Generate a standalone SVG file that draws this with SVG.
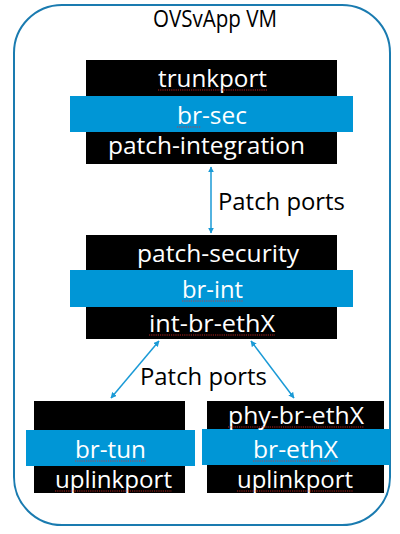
<svg xmlns="http://www.w3.org/2000/svg" width="400" height="534" viewBox="0 0 400 534">
<defs>
<style>
.blk{fill:#000}
.bar{fill:#0096d6}
.t{font-family:"Open Sans","Liberation Sans",sans-serif;font-size:24px;fill:#fff;text-anchor:middle}
.d{font-family:"Open Sans","Liberation Sans",sans-serif;font-size:24px;fill:#000;text-anchor:middle}
.con{stroke:#1a9ad6;stroke-width:1.5;fill:none}
.sq{stroke:#e0302a;stroke-width:0.8;fill:none;stroke-dasharray:1.2 1}
</style>
<marker id="ah" viewBox="0 0 10 10" refX="9" refY="5" markerWidth="6" markerHeight="6" orient="auto-start-reverse" markerUnits="userSpaceOnUse">
<path d="M0,0 L10,5 L0,10 z" fill="#1a9ad6"/>
</marker>
</defs>
<rect width="400" height="534" fill="#fff"/>
<g id="vm">
<rect x="14" y="5" width="376" height="520" rx="48" ry="48" fill="none" stroke="#1a7bb0" stroke-width="2"/>
<text class="d" x="215" y="27" textLength="124" lengthAdjust="spacingAndGlyphs">OVSvApp VM</text>
</g>
<g id="br-sec">
<rect class="blk" x="86" y="60" width="251" height="104"/>
<rect class="bar" x="70" y="96" width="283" height="36"/>
<text class="t" x="212.5" y="87" textLength="109" lengthAdjust="spacingAndGlyphs">trunkport</text>
<text class="t" x="212" y="124" textLength="70" lengthAdjust="spacingAndGlyphs">br-sec</text>
<text class="t" x="206.5" y="154" textLength="197" lengthAdjust="spacingAndGlyphs">patch-integration</text>
<path class="sq" d="M158,90 H267 M177,127 H201"/>
</g>
<g id="br-int">
<rect class="blk" x="86" y="235" width="251" height="104"/>
<rect class="bar" x="70" y="270" width="283" height="37"/>
<text class="t" x="218" y="262" textLength="162" lengthAdjust="spacingAndGlyphs">patch-security</text>
<text class="t" x="212.5" y="298" textLength="61" lengthAdjust="spacingAndGlyphs">br-int</text>
<text class="t" x="212" y="332" textLength="126" lengthAdjust="spacingAndGlyphs">int-br-ethX</text>
<path class="sq" d="M182,301 H243 M149,335 H275"/>
</g>
<g id="br-tun">
<rect class="blk" x="34" y="401" width="151" height="92"/>
<rect class="bar" x="26" y="430" width="169" height="36"/>
<text class="t" x="110.5" y="458" textLength="71" lengthAdjust="spacingAndGlyphs">br-tun</text>
<text class="t" x="113.5" y="488" textLength="117" lengthAdjust="spacingAndGlyphs">uplinkport</text>
<path class="sq" d="M75,461 H146 M55,491 H172"/>
</g>
<g id="br-ethX">
<rect class="blk" x="207" y="401" width="177" height="92"/>
<rect class="bar" x="202" y="429" width="188" height="36"/>
<text class="t" x="296" y="424" textLength="136" lengthAdjust="spacingAndGlyphs">phy-br-ethX</text>
<text class="t" x="295.5" y="458" textLength="85" lengthAdjust="spacingAndGlyphs">br-ethX</text>
<text class="t" x="295" y="488" textLength="116" lengthAdjust="spacingAndGlyphs">uplinkport</text>
<path class="sq" d="M228,427 H364 M253,461 H338 M237,491 H353"/>
</g>
<g id="connectors">
<line class="con" x1="211" y1="167" x2="211" y2="233" marker-start="url(#ah)" marker-end="url(#ah)"/>
<line class="con" x1="159" y1="341" x2="111" y2="398" marker-start="url(#ah)" marker-end="url(#ah)"/>
<line class="con" x1="251" y1="341" x2="294" y2="398" marker-start="url(#ah)" marker-end="url(#ah)"/>
<text class="d" x="281.5" y="210" textLength="127" lengthAdjust="spacingAndGlyphs">Patch ports</text>
<text class="d" x="203.5" y="385" textLength="127" lengthAdjust="spacingAndGlyphs">Patch ports</text>
</g>
</svg>
